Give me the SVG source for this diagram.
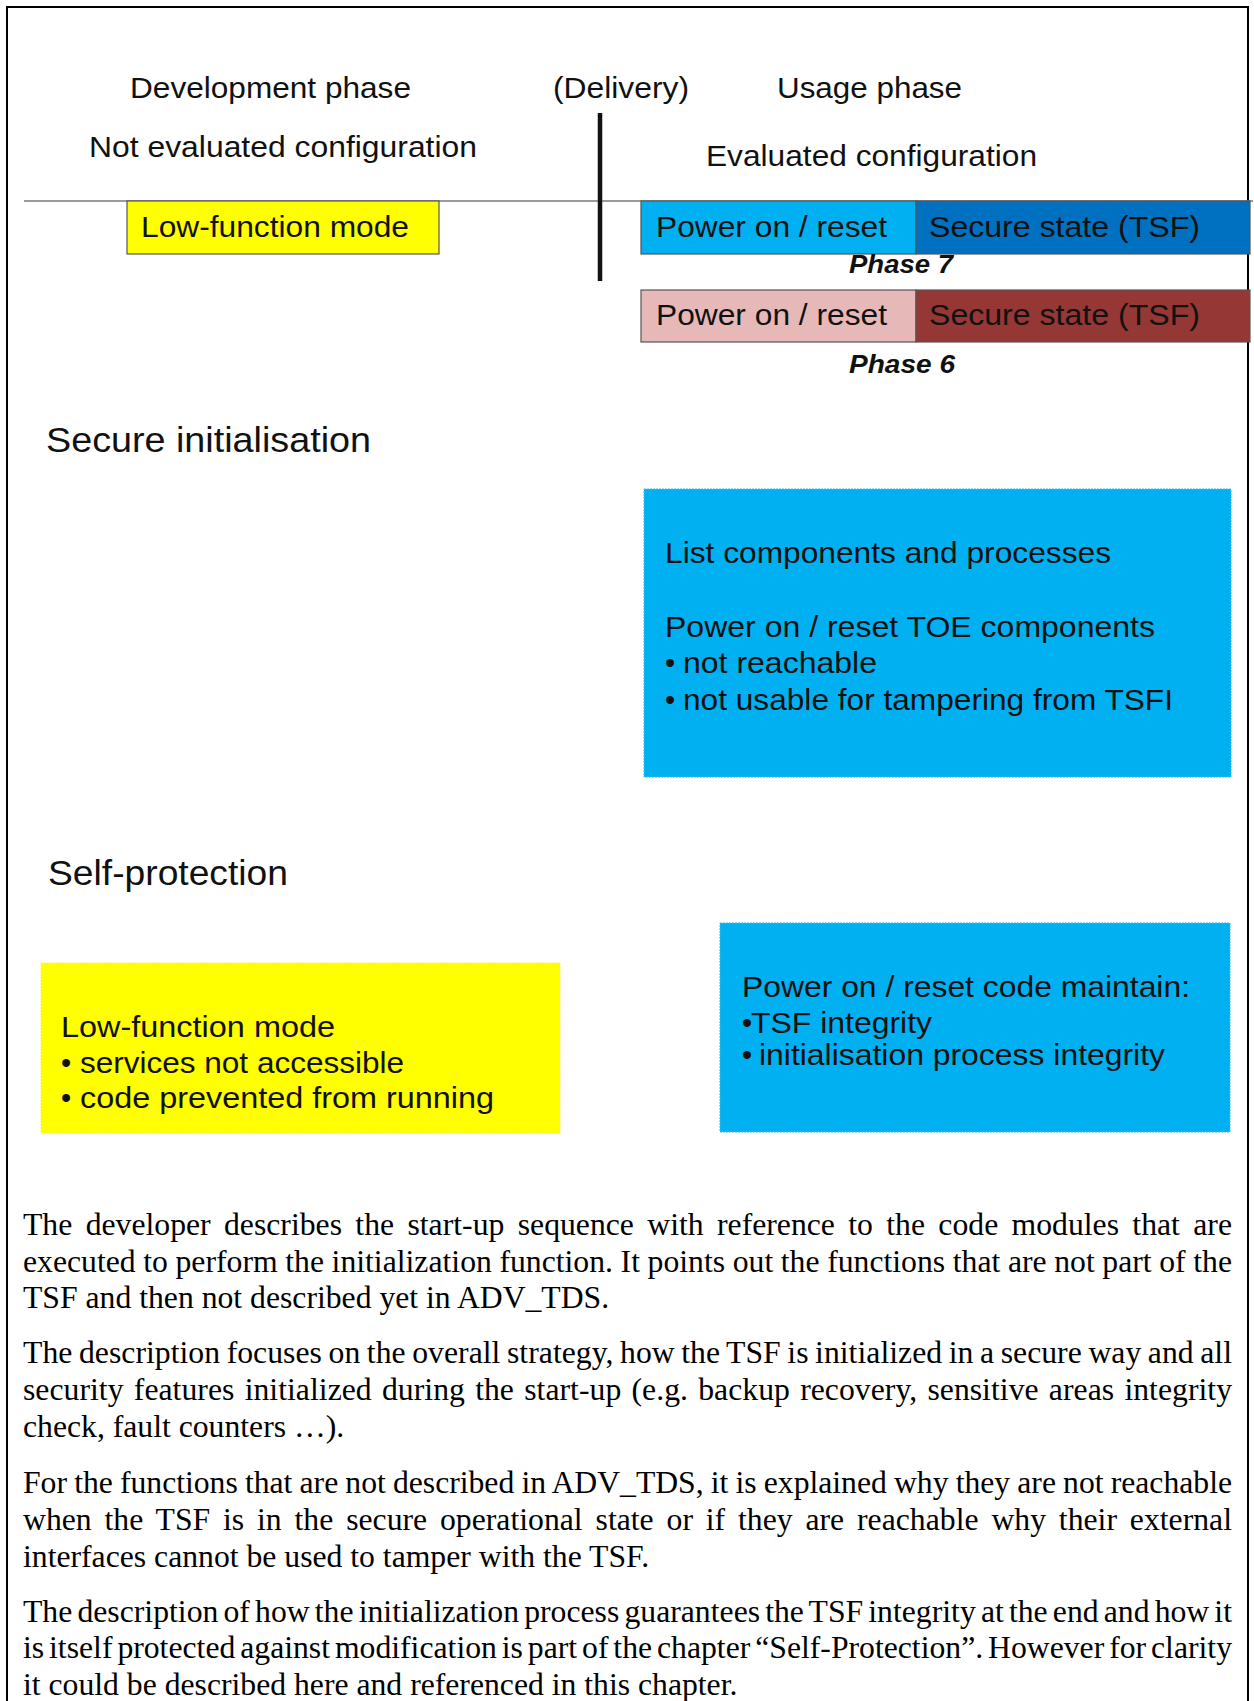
<svg xmlns="http://www.w3.org/2000/svg" width="1254" height="1701" viewBox="0 0 1254 1701">
<style>
.s{font-family:"Liberation Sans",Arial,sans-serif;fill:#111;font-size:29px}
.h{font-family:"Liberation Sans",Arial,sans-serif;fill:#111;font-size:35px}
.ph{font-family:"Liberation Sans",Arial,sans-serif;fill:#111;font-size:26px;font-weight:bold;font-style:italic}
.p{font-family:"Liberation Serif","Times New Roman",serif;fill:#000;font-size:31.7px}
.bar{stroke:#555;stroke-width:1.2}
</style>
<rect x="0" y="0" width="1254" height="1701" fill="#fff"/>
<rect id="frame" x="7" y="7" width="1241" height="1720" fill="none" stroke="#000" stroke-width="2"/>

<g id="connectors">
<line x1="24" y1="201" x2="1253" y2="201" stroke="#7a7a7a" stroke-width="1.5"/>
<line x1="600" y1="113" x2="600" y2="281" stroke="#111" stroke-width="4.5"/>
</g>

<g id="header-labels">
<text class="s" x="130" y="98" textLength="281" lengthAdjust="spacingAndGlyphs">Development phase</text>
<text class="s" x="553" y="98" textLength="136" lengthAdjust="spacingAndGlyphs">(Delivery)</text>
<text class="s" x="777" y="98" textLength="185" lengthAdjust="spacingAndGlyphs">Usage phase</text>
<text class="s" x="89" y="157" textLength="388" lengthAdjust="spacingAndGlyphs">Not evaluated configuration</text>
<text class="s" x="706" y="166" textLength="331" lengthAdjust="spacingAndGlyphs">Evaluated configuration</text>
</g>

<g id="low-function-mode">
<rect class="bar" x="127" y="201" width="312" height="53" fill="#FFFF00"/>
<text class="s" x="141" y="237" textLength="268" lengthAdjust="spacingAndGlyphs">Low-function mode</text>
</g>

<g id="phase7">
<rect class="bar" x="641" y="201" width="275" height="53" fill="#00B0F0"/>
<rect class="bar" x="916" y="201" width="334" height="53" fill="#0070C0"/>
<text class="s" x="656" y="237" textLength="231" lengthAdjust="spacingAndGlyphs">Power on / reset</text>
<text class="s" x="929" y="237" textLength="271" lengthAdjust="spacingAndGlyphs">Secure state (TSF)</text>
<text class="ph" x="849" y="273" textLength="104" lengthAdjust="spacingAndGlyphs">Phase 7</text>
</g>

<g id="phase6">
<rect class="bar" x="641" y="290" width="275" height="52" fill="#E6B9B8"/>
<rect class="bar" x="916" y="290" width="334" height="52" fill="#953735"/>
<text class="s" x="656" y="325" textLength="231" lengthAdjust="spacingAndGlyphs">Power on / reset</text>
<text class="s" x="929" y="325" textLength="271" lengthAdjust="spacingAndGlyphs">Secure state (TSF)</text>
<text class="ph" x="849" y="373" textLength="106" lengthAdjust="spacingAndGlyphs">Phase 6</text>
</g>

<g id="secure-initialisation">
<text class="h" x="46" y="452" textLength="325" lengthAdjust="spacingAndGlyphs">Secure initialisation</text>
</g>

<g id="init-box">
<rect x="644" y="489" width="587" height="288" fill="#00B0F0" stroke="#33bff2" stroke-width="1" stroke-dasharray="2 1"/>
<text class="s" x="665" y="563" textLength="446" lengthAdjust="spacingAndGlyphs">List components and processes</text>
<text class="s" x="665" y="637" textLength="490" lengthAdjust="spacingAndGlyphs">Power on / reset TOE components</text>
<text class="s" x="665" y="673">•</text>
<text class="s" x="683" y="673" textLength="194" lengthAdjust="spacingAndGlyphs">not reachable</text>
<text class="s" x="665" y="710">•</text>
<text class="s" x="683" y="710" textLength="490" lengthAdjust="spacingAndGlyphs">not usable for tampering from TSFI</text>
</g>

<g id="self-protection">
<text class="h" x="48" y="885" textLength="240" lengthAdjust="spacingAndGlyphs">Self-protection</text>
</g>

<g id="lfm-box">
<rect x="41" y="963" width="519" height="170" fill="#FFFF00" stroke="#f2f24d" stroke-width="1" stroke-dasharray="2 1"/>
<text class="s" x="61" y="1037" textLength="274" lengthAdjust="spacingAndGlyphs">Low-function mode</text>
<text class="s" x="61" y="1073">•</text>
<text class="s" x="80" y="1073" textLength="324" lengthAdjust="spacingAndGlyphs">services not accessible</text>
<text class="s" x="61" y="1108">•</text>
<text class="s" x="80" y="1108" textLength="414" lengthAdjust="spacingAndGlyphs">code prevented from running</text>
</g>

<g id="maintain-box">
<rect x="720" y="923" width="510" height="209" fill="#00B0F0" stroke="#33bff2" stroke-width="1" stroke-dasharray="2 1"/>
<text class="s" x="742" y="997" textLength="448" lengthAdjust="spacingAndGlyphs">Power on / reset code maintain:</text>
<text class="s" x="742" y="1033">•</text>
<text class="s" x="751" y="1033" textLength="181" lengthAdjust="spacingAndGlyphs">TSF integrity</text>
<text class="s" x="742" y="1065">•</text>
<text class="s" x="759" y="1065" textLength="406" lengthAdjust="spacingAndGlyphs">initialisation process integrity</text>
</g>

<g id="body-text">
<text class="p" x="23" y="1235" word-spacing="5.4" textLength="1209" lengthAdjust="spacing">The developer describes the start-up sequence with reference to the code modules that are</text>
<text class="p" x="23" y="1272" word-spacing="-0.3" textLength="1209" lengthAdjust="spacing">executed to perform the initialization function. It points out the functions that are not part of the</text>
<text class="p" x="23" y="1308">TSF and then not described yet in ADV_TDS.</text>
<text class="p" x="23" y="1363" word-spacing="-1.4" textLength="1209" lengthAdjust="spacing">The description focuses on the overall strategy, how the TSF is initialized in a secure way and all</text>
<text class="p" x="23" y="1400" word-spacing="2.3" textLength="1209" lengthAdjust="spacing">security features initialized during the start-up (e.g. backup recovery, sensitive areas integrity</text>
<text class="p" x="23" y="1437">check, fault counters …).</text>
<text class="p" x="23" y="1493" word-spacing="-0.75" textLength="1209" lengthAdjust="spacing">For the functions that are not described in ADV_TDS, it is explained why they are not reachable</text>
<text class="p" x="23" y="1530" word-spacing="4.9" textLength="1209" lengthAdjust="spacing">when the TSF is in the secure operational state or if they are reachable why their external</text>
<text class="p" x="23" y="1567">interfaces cannot be used to tamper with the TSF.</text>
<text class="p" x="23" y="1622" word-spacing="-2.8" textLength="1209" lengthAdjust="spacing">The description of how the initialization process guarantees the TSF integrity at the end and how it</text>
<text class="p" x="23" y="1658" word-spacing="-3" textLength="1209" lengthAdjust="spacing">is itself protected against modification is part of the chapter “Self-Protection”. However for clarity</text>
<text class="p" x="23" y="1695">it could be described here and referenced in this chapter.</text>
</g>
</svg>
